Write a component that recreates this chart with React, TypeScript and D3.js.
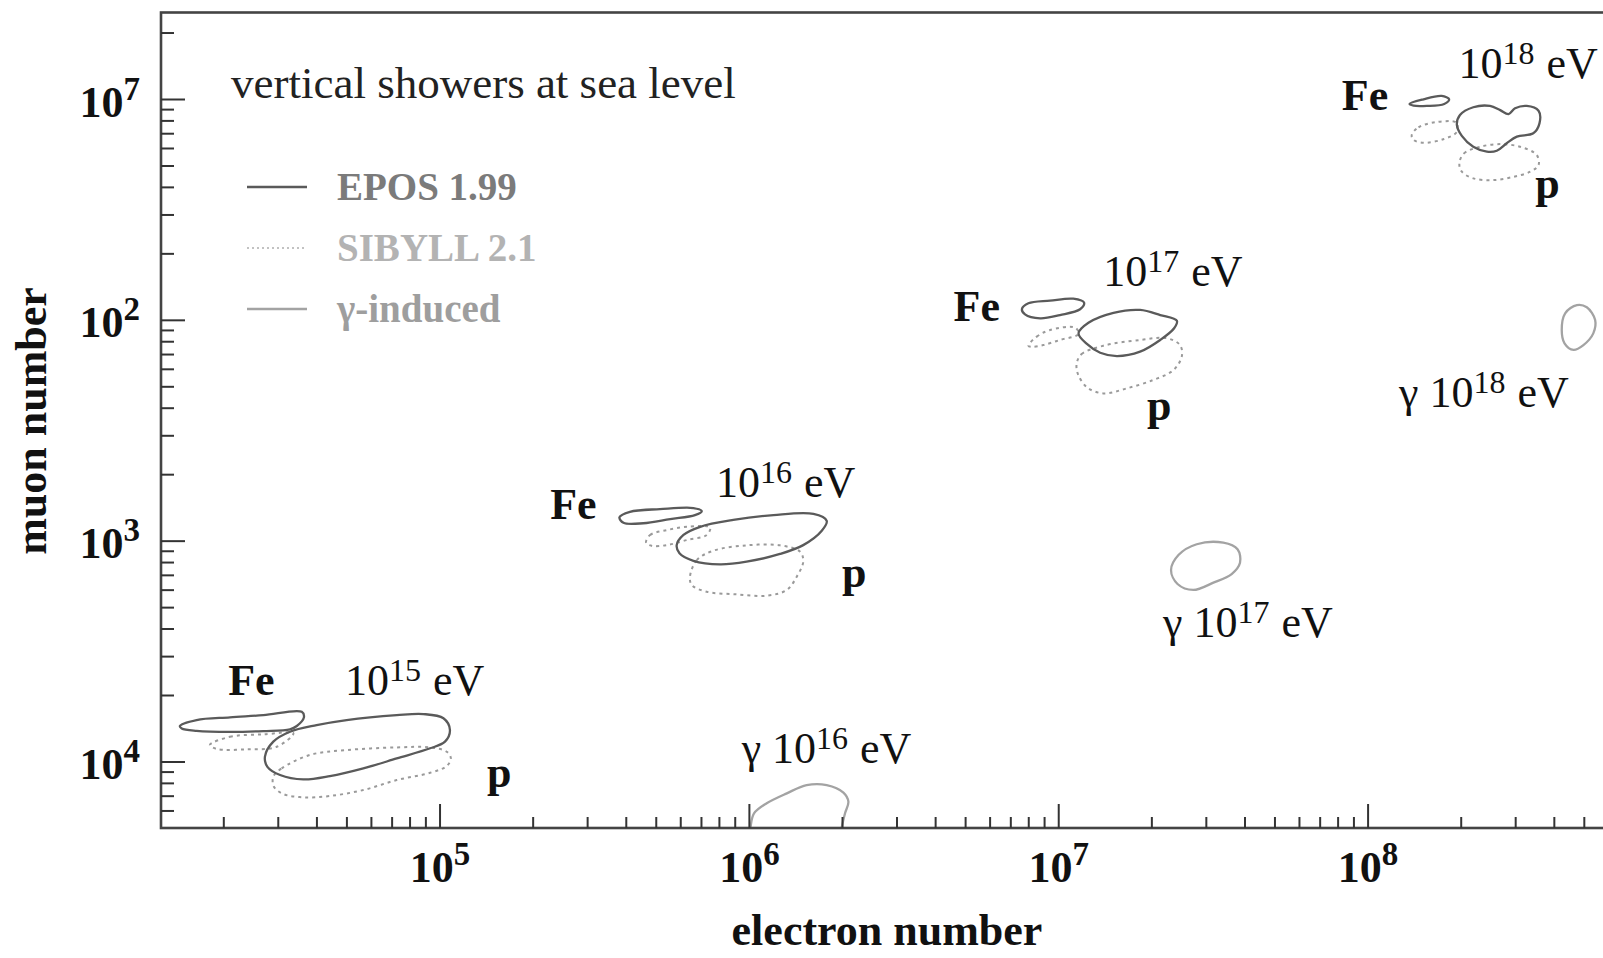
import React from "react";
import * as d3 from "d3";

type Pt = [number, number];

// contour outlines as [log10 electron number, log10 muon number]
const EPOS_FE_15: Pt[] = [
  [4.159, 4.163], [4.213, 4.19], [4.321, 4.202], [4.429, 4.212], [4.553, 4.227], [4.56, 4.202],
  [4.537, 4.163], [4.515, 4.148], [4.429, 4.14], [4.321, 4.136], [4.213, 4.141], [4.165, 4.152],
];
const SIBYLL_FE_15: Pt[] = [
  [4.256, 4.077], [4.321, 4.114], [4.429, 4.125], [4.526, 4.13], [4.472, 4.069], [4.375, 4.057], [4.278, 4.059],
];
const EPOS_P_15: Pt[] = [
  [4.434, 4.024], [4.461, 4.092], [4.515, 4.137], [4.601, 4.167], [4.698, 4.19], [4.86, 4.212],
  [4.946, 4.217], [5.011, 4.198], [5.032, 4.145], [5.016, 4.092], [4.968, 4.062], [4.86, 4.016],
  [4.752, 3.971], [4.644, 3.936], [4.558, 3.921], [4.483, 3.941], [4.442, 3.978],
];
const SIBYLL_P_15: Pt[] = [
  [4.461, 3.933], [4.488, 3.971], [4.58, 4.032], [4.698, 4.054], [4.86, 4.066], [4.968, 4.066],
  [5.022, 4.046], [5.035, 4.016], [5.022, 3.982], [4.968, 3.951], [4.86, 3.918], [4.752, 3.873],
  [4.644, 3.846], [4.558, 3.84], [4.493, 3.855], [4.463, 3.888],
];
const EPOS_FE_16: Pt[] = [
  [5.58, 5.108], [5.614, 5.133], [5.711, 5.145], [5.819, 5.15], [5.846, 5.136], [5.824, 5.118],
  [5.744, 5.1], [5.657, 5.081], [5.593, 5.083],
];
const SIBYLL_FE_16: Pt[] = [
  [5.666, 4.993], [5.679, 5.028], [5.733, 5.05], [5.798, 5.065], [5.873, 5.062], [5.862, 5.028],
  [5.798, 5.005], [5.733, 4.982], [5.684, 4.979],
];
const EPOS_P_16: Pt[] = [
  [5.765, 4.982], [5.787, 5.028], [5.841, 5.065], [5.948, 5.096], [6.078, 5.118], [6.207, 5.123],
  [6.25, 5.092], [6.234, 5.047], [6.174, 4.982], [6.099, 4.942], [5.991, 4.907], [5.905, 4.895],
  [5.819, 4.911], [5.774, 4.945],
];
const SIBYLL_P_16: Pt[] = [
  [5.808, 4.839], [5.83, 4.914], [5.884, 4.957], [5.991, 4.981], [6.099, 4.981], [6.164, 4.952],
  [6.174, 4.907], [6.153, 4.839], [6.121, 4.779], [6.056, 4.753], [5.959, 4.759], [5.862, 4.771],
  [5.814, 4.801],
];
const EPOS_FE_17: Pt[] = [
  [6.881, 6.051], [6.902, 6.077], [6.972, 6.089], [7.047, 6.098], [7.082, 6.08], [7.069, 6.05],
  [7.004, 6.024], [6.94, 6.009], [6.891, 6.027],
];
const SIBYLL_FE_17: Pt[] = [
  [6.902, 5.885], [6.929, 5.926], [6.972, 5.956], [7.053, 5.967], [7.064, 5.938], [7.004, 5.911],
  [6.95, 5.888], [6.913, 5.88],
];
const EPOS_P_17: Pt[] = [
  [7.064, 5.941], [7.096, 5.989], [7.177, 6.034], [7.263, 6.047], [7.328, 6.024], [7.382, 5.998],
  [7.373, 5.964], [7.328, 5.911], [7.263, 5.858], [7.188, 5.838], [7.134, 5.853], [7.091, 5.893],
];
const SIBYLL_P_17: Pt[] = [
  [7.058, 5.805], [7.074, 5.847], [7.144, 5.885], [7.263, 5.911], [7.349, 5.919], [7.392, 5.888],
  [7.398, 5.838], [7.371, 5.775], [7.306, 5.73], [7.22, 5.692], [7.144, 5.669], [7.091, 5.697],
  [7.062, 5.757],
];
const EPOS_FE_18: Pt[] = [
  [8.134, 6.98], [8.179, 7.001], [8.238, 7.016], [8.262, 7.001], [8.246, 6.98], [8.19, 6.971], [8.147, 6.972],
];
const SIBYLL_FE_18: Pt[] = [
  [8.141, 6.839], [8.163, 6.874], [8.222, 6.898], [8.285, 6.895], [8.287, 6.854], [8.243, 6.82],
  [8.179, 6.804], [8.147, 6.817],
];
const EPOS_P_18: Pt[] = [
  [8.287, 6.885], [8.297, 6.93], [8.34, 6.965], [8.394, 6.971], [8.427, 6.952], [8.454, 6.934],
  [8.475, 6.96], [8.513, 6.971], [8.551, 6.949], [8.554, 6.892], [8.534, 6.847], [8.481, 6.832],
  [8.448, 6.802], [8.416, 6.768], [8.384, 6.764], [8.34, 6.786], [8.303, 6.835],
];
const SIBYLL_P_18: Pt[] = [
  [8.295, 6.711], [8.31, 6.756], [8.362, 6.786], [8.427, 6.798], [8.491, 6.786], [8.545, 6.749],
  [8.551, 6.703], [8.524, 6.673], [8.47, 6.65], [8.405, 6.635], [8.34, 6.643], [8.303, 6.673],
];
const GAMMA_16: Pt[] = [
  [6.004, 3.707], [6.015, 3.767], [6.056, 3.813], [6.121, 3.858], [6.185, 3.895], [6.25, 3.895],
  [6.304, 3.861], [6.32, 3.82], [6.309, 3.767], [6.299, 3.707], [6.293, 3.646], [6.206, 3.587],
  [6.056, 3.616], [6.002, 3.661],
];
const GAMMA_17: Pt[] = [
  [7.363, 4.869], [7.387, 4.937], [7.446, 4.986], [7.532, 4.993], [7.578, 4.963], [7.586, 4.902],
  [7.559, 4.851], [7.5, 4.812], [7.435, 4.779], [7.384, 4.806],
];
const GAMMA_18: Pt[] = [
  [8.626, 5.956], [8.637, 6.032], [8.675, 6.069], [8.707, 6.059], [8.734, 6.001], [8.728, 5.941],
  [8.696, 5.888], [8.664, 5.866], [8.635, 5.896],
];

type Model = "epos" | "sibyll" | "gamma";

const CONTOURS: { model: Model; points: Pt[] }[] = [
  { model: "sibyll", points: SIBYLL_FE_15 },
  { model: "sibyll", points: SIBYLL_P_15 },
  { model: "epos", points: EPOS_FE_15 },
  { model: "epos", points: EPOS_P_15 },
  { model: "sibyll", points: SIBYLL_FE_16 },
  { model: "sibyll", points: SIBYLL_P_16 },
  { model: "epos", points: EPOS_FE_16 },
  { model: "epos", points: EPOS_P_16 },
  { model: "sibyll", points: SIBYLL_FE_17 },
  { model: "sibyll", points: SIBYLL_P_17 },
  { model: "epos", points: EPOS_FE_17 },
  { model: "epos", points: EPOS_P_17 },
  { model: "sibyll", points: SIBYLL_FE_18 },
  { model: "sibyll", points: SIBYLL_P_18 },
  { model: "epos", points: EPOS_FE_18 },
  { model: "epos", points: EPOS_P_18 },
  { model: "gamma", points: GAMMA_16 },
  { model: "gamma", points: GAMMA_17 },
  { model: "gamma", points: GAMMA_18 },
];

// annotations placed in data space (log10 values, text baseline start)
const ANNOTATIONS = [
  { pre: "", base: "Fe", sup: "", tail: "", lgNe: 4.315, lgNmu: 4.303, bold: true },
  { pre: "", base: "10", sup: "15", tail: "eV", lgNe: 4.693, lgNmu: 4.303, bold: false },
  { pre: "", base: "p", sup: "", tail: "", lgNe: 5.152, lgNmu: 3.888, bold: true },
  { pre: "", base: "Fe", sup: "", tail: "", lgNe: 5.356, lgNmu: 5.099, bold: true },
  { pre: "", base: "10", sup: "16", tail: "eV", lgNe: 5.892, lgNmu: 5.198, bold: false },
  { pre: "", base: "p", sup: "", tail: "", lgNe: 6.299, lgNmu: 4.793, bold: true },
  { pre: "", base: "Fe", sup: "", tail: "", lgNe: 6.66, lgNmu: 5.998, bold: true },
  { pre: "", base: "10", sup: "17", tail: "eV", lgNe: 7.144, lgNmu: 6.155, bold: false },
  { pre: "", base: "p", sup: "", tail: "", lgNe: 7.285, lgNmu: 5.548, bold: true },
  { pre: "", base: "Fe", sup: "", tail: "", lgNe: 7.915, lgNmu: 6.952, bold: true },
  { pre: "", base: "10", sup: "18", tail: "eV", lgNe: 8.292, lgNmu: 7.096, bold: false },
  { pre: "", base: "p", sup: "", tail: "", lgNe: 8.54, lgNmu: 6.554, bold: true },
  { pre: "γ ", base: "10", sup: "16", tail: "eV", lgNe: 5.975, lgNmu: 3.994, bold: false },
  { pre: "γ ", base: "10", sup: "17", tail: "eV", lgNe: 7.337, lgNmu: 4.567, bold: false },
  { pre: "γ ", base: "10", sup: "18", tail: "eV", lgNe: 8.1, lgNmu: 5.609, bold: false },
];

const X_MAJOR = [5, 6, 7, 8];
const Y_MAJOR = [4, 5, 6, 7];
// exponents as printed on the vertical axis, bottom to top
const Y_TICK_EXPONENTS = ["4", "3", "2", "7"];

const LEGEND = [
  { model: "epos" as Model, label: "EPOS 1.99", color: "#7b7b7b" },
  { model: "sibyll" as Model, label: "SIBYLL 2.1", color: "#b3b3b3" },
  { model: "gamma" as Model, label: "γ-induced", color: "#9e9e9e" },
];

const LG_X_DOMAIN = [4.098, 8.782];
const LG_Y_DOMAIN = [3.701, 7.394];

const W = 1603;
const H = 958;
const PLOT = { left: 161, right: 1610, top: 12.5, bottom: 828 };
const FONT = "'Liberation Serif', 'Times New Roman', serif";

const STYLE: Record<Model, { stroke: string; width: number; dash?: string }> = {
  epos: { stroke: "#5a5a5a", width: 2.3 },
  sibyll: { stroke: "#9a9a9a", width: 2, dash: "3 4" },
  gamma: { stroke: "#a3a3a3", width: 2.3 },
};

export default function App() {
  const x = d3
    .scaleLog()
    .domain(LG_X_DOMAIN.map((v) => 10 ** v))
    .range([PLOT.left, PLOT.right]);
  const y = d3
    .scaleLog()
    .domain(LG_Y_DOMAIN.map((v) => 10 ** v))
    .range([PLOT.bottom, PLOT.top]);

  const line = d3
    .line<Pt>()
    .x((d) => x(10 ** d[0]))
    .y((d) => y(10 ** d[1]))
    .curve(d3.curveCatmullRomClosed.alpha(0.5));

  const minor = (dom: number[]) =>
    d3
      .range(3, 9)
      .flatMap((e) => d3.range(2, 10).map((m) => m * 10 ** e))
      .filter((v) => v > 10 ** dom[0] && v < 10 ** dom[1]);

  const xMinor = minor(LG_X_DOMAIN);
  const yMinor = minor(LG_Y_DOMAIN);

  return (
    <svg
      width={W}
      height={H}
      style={{ position: "absolute", left: 0, top: 0, display: "block", background: "#fff" }}
      fontFamily={FONT}
    >
      <defs>
        <clipPath id="plot-clip">
          <rect x={PLOT.left} y={PLOT.top} width={PLOT.right - PLOT.left} height={PLOT.bottom - PLOT.top} />
        </clipPath>
      </defs>

      {/* contours */}
      <g clipPath="url(#plot-clip)" fill="none">
        {CONTOURS.map((c, i) => (
          <path
            key={i}
            d={line(c.points) ?? ""}
            stroke={STYLE[c.model].stroke}
            strokeWidth={STYLE[c.model].width}
            strokeDasharray={STYLE[c.model].dash}
          />
        ))}
      </g>

      {/* frame */}
      <rect
        x={PLOT.left}
        y={PLOT.top}
        width={PLOT.right - PLOT.left}
        height={PLOT.bottom - PLOT.top}
        fill="none"
        stroke="#444"
        strokeWidth={2.6}
      />

      {/* ticks */}
      <g stroke="#333" strokeWidth={2}>
        {X_MAJOR.map((e) => (
          <line key={"xM" + e} x1={x(10 ** e)} x2={x(10 ** e)} y1={PLOT.bottom} y2={PLOT.bottom - 24} />
        ))}
        {xMinor.map((v) => (
          <line key={"xm" + v} x1={x(v)} x2={x(v)} y1={PLOT.bottom} y2={PLOT.bottom - 11} />
        ))}
        {Y_MAJOR.map((e) => (
          <line key={"yM" + e} x1={PLOT.left} x2={PLOT.left + 24} y1={y(10 ** e)} y2={y(10 ** e)} />
        ))}
        {yMinor.map((v) => (
          <line key={"ym" + v} x1={PLOT.left} x2={PLOT.left + 13} y1={y(v)} y2={y(v)} />
        ))}
      </g>

      {/* tick labels */}
      <g fontWeight="bold" fontSize={44} fill="#111">
        {X_MAJOR.map((e) => (
          <text key={"xl" + e} x={x(10 ** e)} y={882} textAnchor="middle">
            <tspan>10</tspan>
            <tspan dy={-17} fontSize={33}>{e}</tspan>
          </text>
        ))}
        {Y_MAJOR.map((e, i) => (
          <text key={"yl" + e} x={140} y={y(10 ** e) + 17} textAnchor="end">
            <tspan>10</tspan>
            <tspan dy={-17} fontSize={33}>{Y_TICK_EXPONENTS[i]}</tspan>
          </text>
        ))}
      </g>

      {/* axis titles */}
      <text x={887} y={945} textAnchor="middle" fontWeight="bold" fontSize={44} fill="#111">
        electron number
      </text>
      <text
        transform="translate(46,421) rotate(-90)"
        textAnchor="middle"
        fontWeight="bold"
        fontSize={44}
        fill="#111"
      >
        muon number
      </text>

      {/* annotations */}
      {ANNOTATIONS.map((a, i) => (
        <text
          key={"an" + i}
          x={x(10 ** a.lgNe)}
          y={y(10 ** a.lgNmu)}
          fontSize={44}
          fontWeight={a.bold ? "bold" : "normal"}
          fill="#111"
        >
          {a.pre && <tspan>{a.pre}</tspan>}
          <tspan>{a.base}</tspan>
          {a.sup && (
            <tspan dy={-14} fontSize={32}>
              {a.sup}
            </tspan>
          )}
          {a.tail && (
            <tspan dy={14} dx={12}>
              {a.tail}
            </tspan>
          )}
        </text>
      ))}

      {/* legend */}
      <text x={231} y={98} fontSize={45} fill="#222">
        vertical showers at sea level
      </text>
      {LEGEND.map((l, i) => (
        <g key={l.label}>
          <line
            x1={247}
            x2={307}
            y1={187 + i * 61}
            y2={187 + i * 61}
            stroke={STYLE[l.model].stroke}
            strokeWidth={l.model === "sibyll" ? 1.6 : 2.4}
            strokeDasharray={l.model === "sibyll" ? "2 3" : undefined}
            opacity={l.model === "sibyll" ? 0.8 : 1}
          />
          <text x={337} y={200 + i * 61} fontSize={39} fontWeight="bold" fill={l.color}>
            {l.label}
          </text>
        </g>
      ))}
    </svg>
  );
}
